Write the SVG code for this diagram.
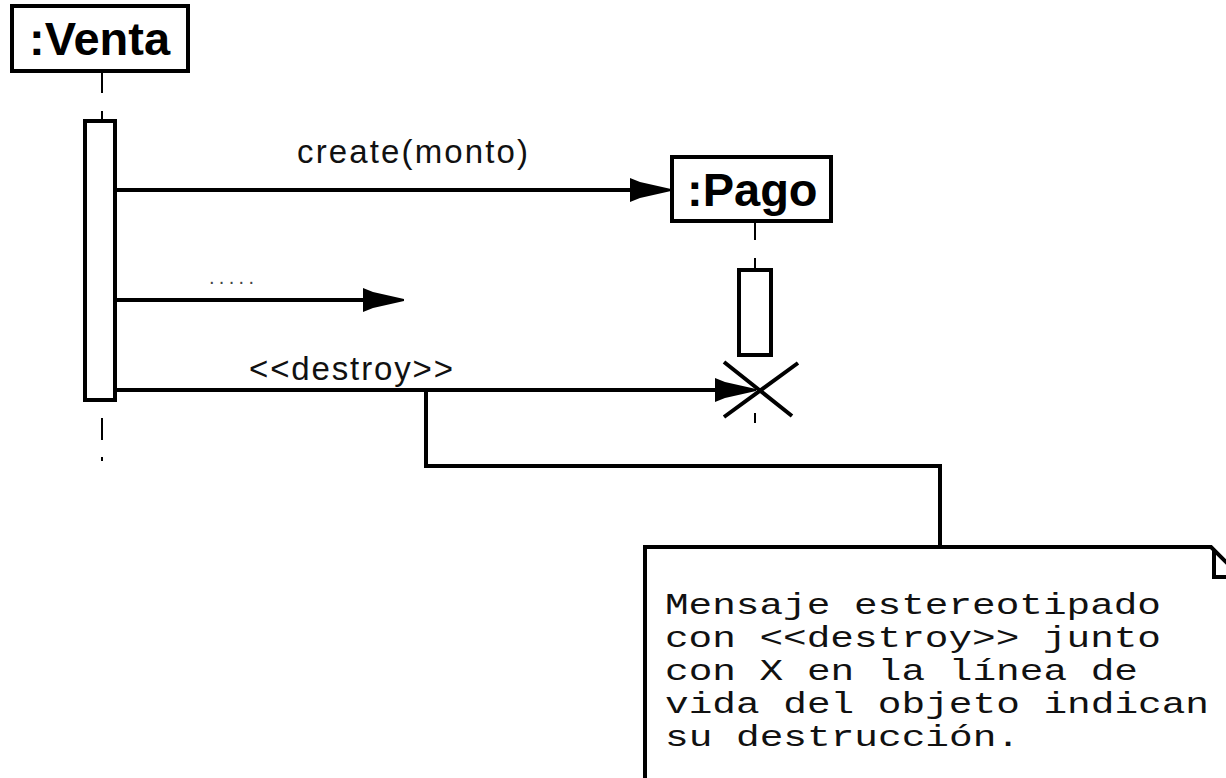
<svg xmlns="http://www.w3.org/2000/svg" width="1226" height="778" viewBox="0 0 1226 778">
<style>
.box{fill:#fff;stroke:#000;stroke-width:4}
.act{fill:#fff;stroke:#000;stroke-width:4}
.ln{fill:none;stroke:#000;stroke-width:4}
.life{fill:none;stroke:#000;stroke-width:2}
.title{font-family:"Liberation Sans",Arial,sans-serif;font-weight:bold;font-size:47px;fill:#000}
.lbl{font-family:"Liberation Sans",Arial,sans-serif;font-size:33px;fill:#111}
.note{font-family:"Liberation Mono","Courier New",monospace;font-size:29px;fill:#111}
</style>
<defs>
<marker id="ah" markerUnits="userSpaceOnUse" markerWidth="42" markerHeight="26" refX="32" refY="13" orient="auto" viewBox="0 0 42 26">
<path d="M0,1 L10,5 L41,12 L41,14 L10,21 L0,25 Z" fill="#000"/>
</marker>
</defs>
<rect width="1226" height="778" fill="#fff"/>
<g id="venta">
<rect class="box" x="12" y="6" width="176" height="65"/>
<text class="title" x="29" y="55">:Venta</text>
<path class="life" d="M102,73 V121" stroke-dasharray="20 18"/>
<rect class="act" x="85" y="121" width="30" height="279"/>
<path class="life" d="M102,418 V463" stroke-dasharray="22 17 4 100"/>
</g>
<g id="pago">
<rect class="box" x="672" y="157" width="159" height="64"/>
<text class="title" x="687" y="206">:Pago</text>
<path class="life" d="M755,223 V269" stroke-dasharray="17 18"/>
<rect class="act" x="739" y="270" width="32" height="85"/>
<path class="ln" d="M724,362 L792,416 M798,363 L724,417"/>
<path class="life" d="M755,413 V423"/>
</g>
<g id="note">
<path class="box" d="M645,790 V547 H1211 L1240,576"/>
<path class="ln" d="M1214,549 V577 H1240"/>
<text class="note" x="665" y="614" textLength="496" lengthAdjust="spacingAndGlyphs">Mensaje estereotipado</text>
<text class="note" x="665" y="647" textLength="496" lengthAdjust="spacingAndGlyphs">con &lt;&lt;destroy&gt;&gt; junto</text>
<text class="note" x="665" y="680" textLength="473" lengthAdjust="spacingAndGlyphs">con X en la línea de</text>
<text class="note" x="665" y="713" textLength="544" lengthAdjust="spacingAndGlyphs">vida del objeto indican</text>
<text class="note" x="665" y="746" textLength="355" lengthAdjust="spacingAndGlyphs">su destrucción.</text>
</g>
<g id="connectors">
<path class="ln" d="M117,190 H662" marker-end="url(#ah)"/>
<text class="lbl" x="297" y="163" textLength="231" lengthAdjust="spacing">create(monto)</text>
<path class="ln" d="M117,300 H395" marker-end="url(#ah)"/>
<text class="lbl" x="209" y="284" textLength="45" lengthAdjust="spacing" style="font-size:20px;fill:#444">.....</text>
<path class="ln" d="M117,390 H747" marker-end="url(#ah)"/>
<text class="lbl" x="249" y="380" textLength="204" lengthAdjust="spacing">&lt;&lt;destroy&gt;&gt;</text>
<path class="ln" d="M426,390 V466 H940 V547"/>
</g>
</svg>
